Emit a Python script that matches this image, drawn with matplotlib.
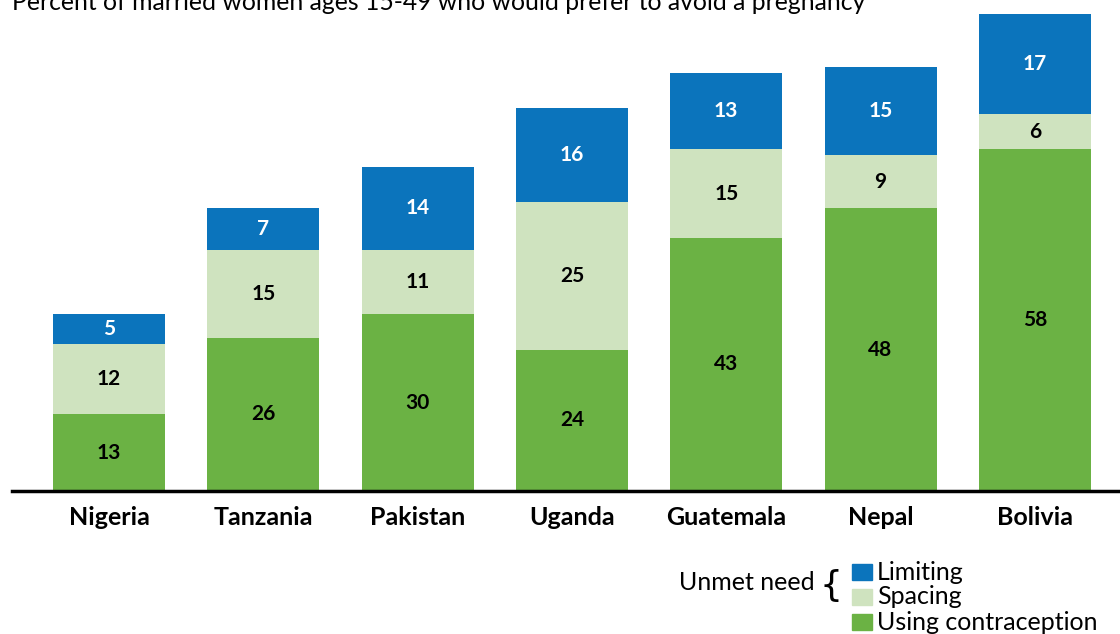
import matplotlib
matplotlib.use("Agg")
from matplotlib import pyplot as plt
from matplotlib.patches import Rectangle

countries = ["Nigeria", "Tanzania", "Pakistan", "Uganda", "Guatemala", "Nepal", "Bolivia"]
using = [13, 26, 30, 24, 43, 48, 58]
spacing = [12, 15, 11, 25, 15, 9, 6]
limiting = [5, 7, 14, 16, 13, 15, 17]

c_using = "#6BB244"
c_spacing = "#CFE3BF"
c_limiting = "#0B74BC"

plt.rcParams['font.family'] = ['Lato', 'DejaVu Sans']

W, H = 1120, 634
fig = plt.figure(figsize=(W / 100, H / 100), dpi=100)
ax = fig.add_axes([12 / W, (H - 491) / H, 1108 / W, 477 / H])

x = list(range(len(countries)))
bw = 0.726
ax.bar(x, using, width=bw, color=c_using)
ax.bar(x, spacing, width=bw, bottom=using, color=c_spacing)
bottom2 = [u + s for u, s in zip(using, spacing)]
ax.bar(x, limiting, width=bw, bottom=bottom2, color=c_limiting)

for i in x:
    ax.text(i, using[i] / 2, str(using[i]), ha='center', va='center',
            fontsize=15, fontweight='bold', color='black')
    ax.text(i, using[i] + spacing[i] / 2, str(spacing[i]), ha='center', va='center',
            fontsize=15, fontweight='bold', color='black')
    ax.text(i, bottom2[i] + limiting[i] / 2, str(limiting[i]), ha='center', va='center',
            fontsize=15, fontweight='bold', color='white')

ax.set_xlim(-0.629, 6.552)
ax.set_ylim(0, 81)
for s in ['top', 'right', 'left']:
    ax.spines[s].set_visible(False)
ax.spines['bottom'].set_linewidth(2.5)
ax.set_yticks([])
ax.set_xticks(x)
ax.set_xticklabels(countries, fontsize=18, fontweight='bold')
ax.tick_params(axis='x', length=0, pad=11)

fig.text(12 / W, 1 - 10 / H, "Percent of married women ages 15-49 who would prefer to avoid a pregnancy",
         fontsize=17.8, ha='left', va='baseline')

# legend
fig.text(815 / W, 1 - 583 / H, "Unmet need", fontsize=18, ha='right', va='center')
fig.text(831 / W, 1 - 586 / H, "{", fontsize=26, ha='center', va='center',
         family='DejaVu Sans')
leg = [(c_limiting, "Limiting", 572), (c_spacing, "Spacing", 597), (c_using, "Using contraception", 622)]
for col, lab, yc in leg:
    fig.patches.append(Rectangle((852 / W, 1 - (yc + 8) / H), 20 / W, 16 / H,
                                 transform=fig.transFigure, color=col))
    fig.text(877 / W, 1 - yc / H, lab, fontsize=18, ha='left', va='center')

fig.savefig("out.png", dpi=100)
